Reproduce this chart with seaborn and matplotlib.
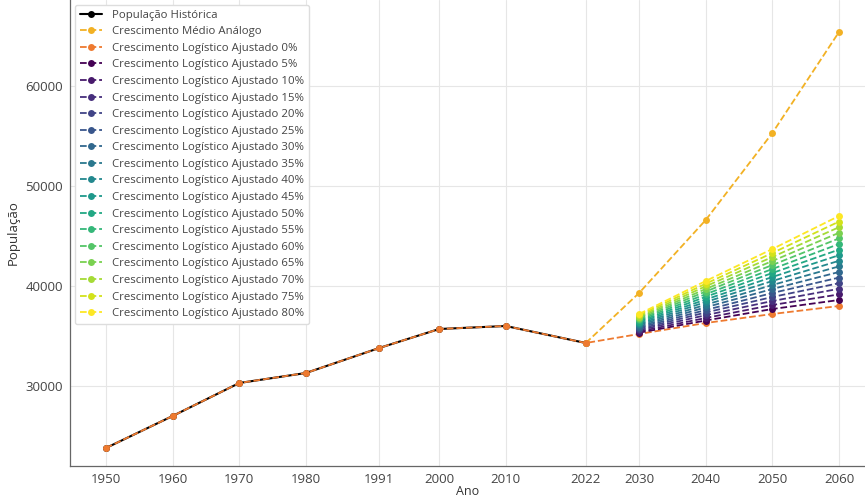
import numpy as np
import pandas as pd
import seaborn as sns
import matplotlib
matplotlib.use("Agg")
import matplotlib.pyplot as plt

# historical population
hist_years = [1950, 1960, 1970, 1980, 1991, 2000, 2010, 2022]
hist_pop = [23800, 27000, 30300, 31300, 33800, 35700, 36000, 34300]

# analog average growth, starting at 2022
analog_years = [2022, 2030, 2040, 2050, 2060]
analog_pop = [34300, 39300, 46600, 55300, 65400]

# logistic 0% (history + projection)
proj_years = [2030, 2040, 2050, 2060]
log0_proj = [35200, 36300, 37200, 38000]

# adjusted logistic 5%..80%, values per projection year
pcts = [5, 10, 15, 20, 25, 30, 35, 40, 45, 50, 55, 60, 65, 70, 75, 80]
proj_2030 = [35330, 35450, 35580, 35700, 35830, 35950, 36080, 36200,
             36330, 36450, 36580, 36700, 36830, 36950, 37080, 37200]
proj_2040 = [36550, 36800, 37080, 37350, 37600, 37870, 38130, 38400,
             38650, 38920, 39180, 39450, 39700, 39970, 40230, 40500]
proj_2050 = [37700, 38100, 38500, 38900, 39300, 39700, 40100, 40500,
             40900, 41300, 41700, 42100, 42500, 42900, 43300, 43700]
proj_2060 = [38600, 39160, 39720, 40280, 40840, 41400, 41960, 42520,
             43080, 43640, 44200, 44760, 45320, 45880, 46440, 47000]

sns.set_style("whitegrid")
plt.rcParams['font.family'] = ['Open Sans', 'DejaVu Sans']

fig = plt.figure(figsize=(8.65, 4.97), dpi=100)
ax = fig.add_axes([70 / 865, 31 / 497, 1 - 70 / 865, 1 - 31 / 497])

ms = 5
sns.lineplot(x=hist_years, y=hist_pop, ax=ax, color="black", marker="o",
             markersize=ms, markeredgewidth=0, linewidth=1.5,
             label="População Histórica")
sns.lineplot(x=analog_years, y=analog_pop, ax=ax, color="#f2b124", marker="o",
             markersize=ms, markeredgewidth=0, linestyle="--", linewidth=1.3,
             label="Crescimento Médio Análogo")
sns.lineplot(x=hist_years + proj_years, y=hist_pop + log0_proj, ax=ax,
             color="#ee7a30", marker="o", markersize=ms, markeredgewidth=0,
             linestyle="--", linewidth=1.3,
             label="Crescimento Logístico Ajustado 0%")

colors = plt.cm.viridis(np.linspace(0, 1, len(pcts)))
for i, p in enumerate(pcts):
    vals = [proj_2030[i], proj_2040[i], proj_2050[i], proj_2060[i]]
    sns.lineplot(x=proj_years, y=vals, ax=ax, color=colors[i], marker="o",
                 markersize=ms, markeredgewidth=0, linestyle="--",
                 linewidth=1.3, label=f"Crescimento Logístico Ajustado {p}%")

ax.set_xlim(1944.6, 2063.9)
ax.set_ylim(22000, 68600)
ax.set_xticks(hist_years + proj_years)
ax.set_yticks([30000, 40000, 50000, 60000])
ax.set_xlabel("Ano", fontsize=9, labelpad=-1, color="#333333")
ax.set_ylabel("População", fontsize=9.5, color="#333333")
ax.tick_params(axis="both", labelsize=9.5, colors="#444444", length=3,
               width=0.8, pad=2)
ax.grid(True, color="#e6e6e6", linewidth=0.8)
for s in ["top", "right"]:
    ax.spines[s].set_visible(False)
for s in ["left", "bottom"]:
    ax.spines[s].set_color("#666666")
    ax.spines[s].set_linewidth(0.9)

leg = ax.legend(loc="upper left", fontsize=8.2, handlelength=2.0,
                labelspacing=0.49, borderpad=0.45, handletextpad=0.8,
                borderaxespad=0.4, frameon=True, framealpha=1)
leg.get_frame().set_edgecolor("#dddddd")
for t in leg.get_texts():
    t.set_color("#444444")

fig.savefig("out.png", dpi=100)
